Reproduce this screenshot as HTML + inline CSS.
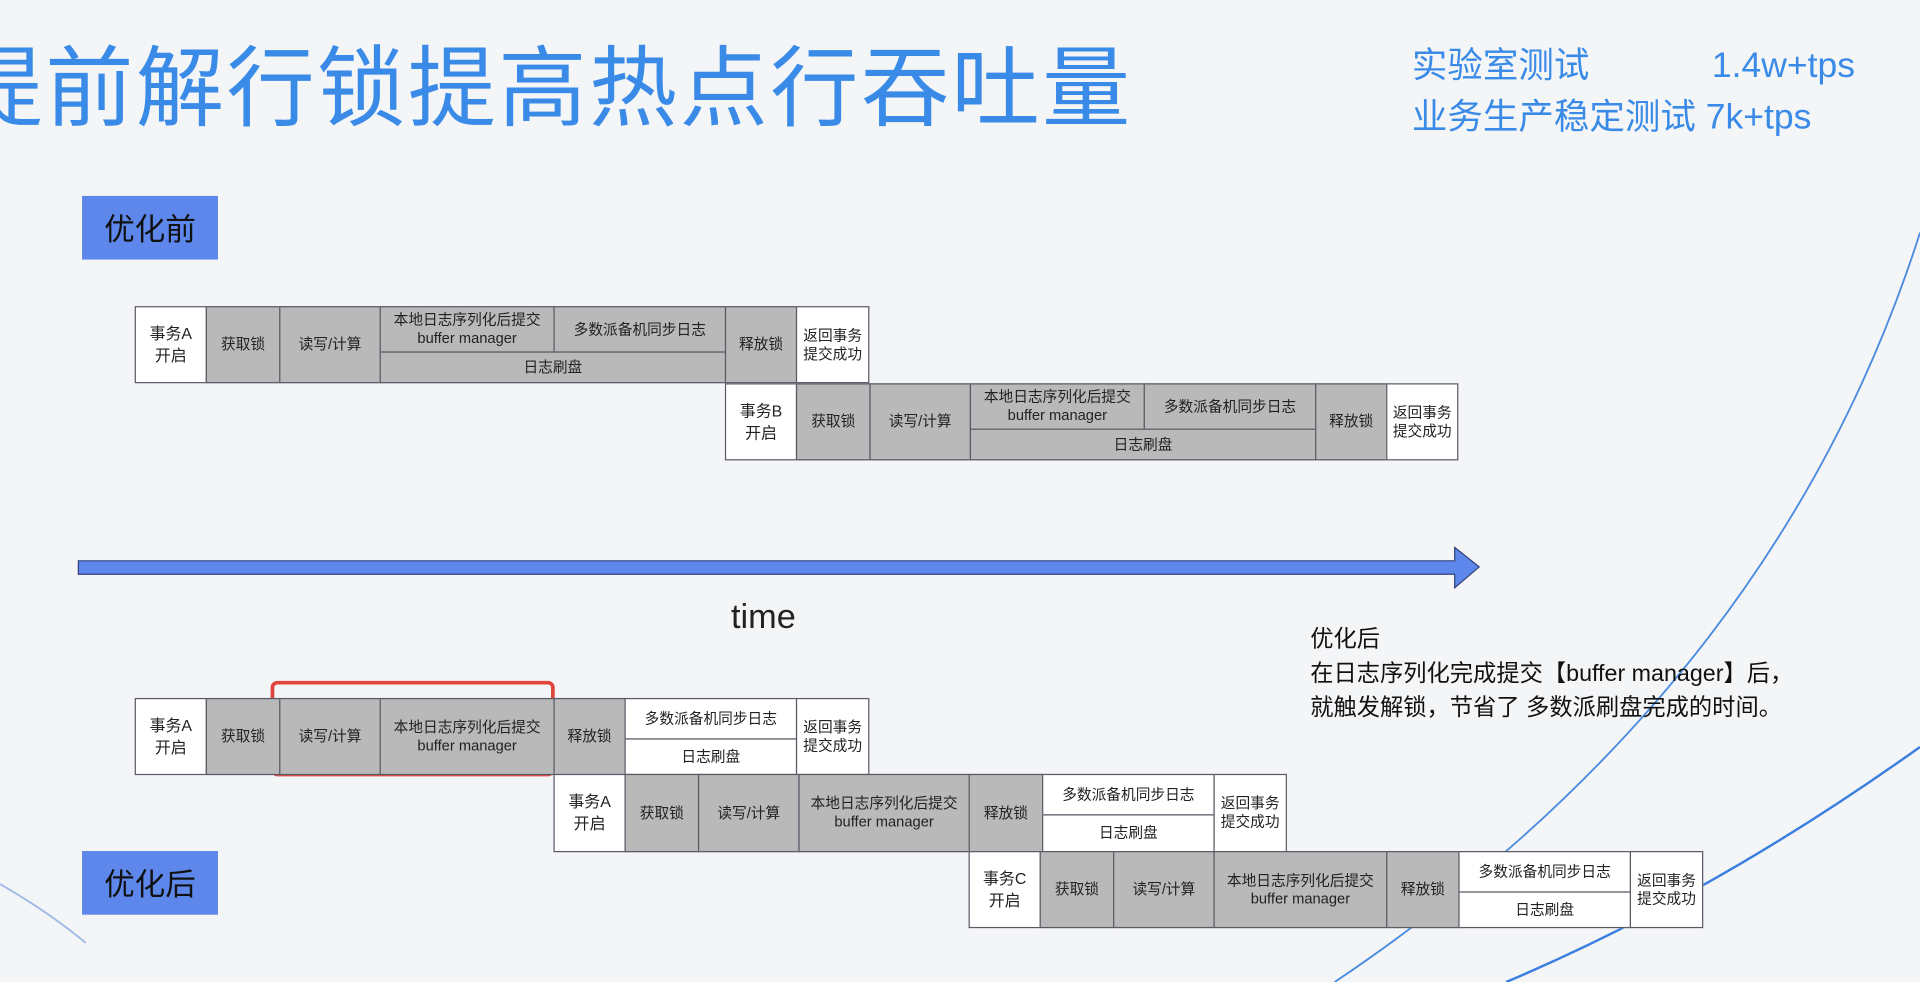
<!DOCTYPE html>
<html><head><meta charset="utf-8">
<style>
html,body{margin:0;padding:0;width:1920px;height:982px;overflow:hidden;background:#f4f5f7;}
#w{position:absolute;left:0;top:0;width:1568px;height:802px;transform:scale(1.22449);transform-origin:0 0;font-family:"Liberation Sans","Noto Sans CJK SC",sans-serif;}
.a{position:absolute;white-space:nowrap;}
.c{position:absolute;box-sizing:border-box;border:1px solid #5a5a66;background:#b9b9b9;color:#222;font-size:12px;line-height:15px;display:flex;align-items:center;justify-content:center;text-align:center;}
.wh{background:#fff;}
.tag{position:absolute;left:67px;width:111px;height:52px;background:#5d87ea;color:#111;font-size:25px;display:flex;align-items:center;justify-content:center;}
</style></head><body>
<div id="w">
<svg class="a" style="left:0;top:0" width="1568" height="802">
<path d="M1568 190 Q1450 560 1090 802" fill="none" stroke="#4a8be0" stroke-width="1.5"/>
<path d="M1568 610 Q1400 730 1230 802" fill="none" stroke="#3b7fe0" stroke-width="2"/>
<path d="M0 722 Q40 745 70 770" fill="none" stroke="#9fb8e8" stroke-width="1.5"/>
<path d="M64 458 L1188 458 L1188 447 L1208 463 L1188 480 L1188 469 L64 469 Z" fill="#5d87ea" stroke="#33407a" stroke-width="1"/>
<rect x="222.5" y="557.5" width="229" height="75" rx="4" fill="none" stroke="#e0453c" stroke-width="3"/>
</svg>
<div class="a" style="left:-37px;top:28px;font-size:72px;color:#3a8be8;letter-spacing:2px;line-height:90px;">提前解行锁提高热点行吞吐量</div>
<div class="a" style="left:1153px;top:33px;font-size:29px;color:#3a8be8;line-height:42px;">实验室测试<span style="display:inline-block;width:100px"></span>1.4w+tps<br>业务生产稳定测试 7k+tps</div>
<div class="tag" style="top:160px;">优化前</div>
<div class="tag" style="top:695px;">优化后</div>
<div class="a" style="left:597px;top:488px;font-size:28px;color:#222;">time</div>
<div class="a" style="left:1070px;top:509px;font-size:19px;color:#111;line-height:28px;">优化后<br>在日志序列化完成提交【buffer manager】后，<br>就触发解锁，节省了 多数派刷盘完成的时间。</div>

<!-- before A -->
<div class="c wh" style="left:110px;top:250px;width:59px;height:63px;font-size:13px;line-height:18px">事务A<br>开启</div>
<div class="c" style="left:168px;top:250px;width:61px;height:63px">获取锁</div>
<div class="c" style="left:228px;top:250px;width:83px;height:63px">读写/计算</div>
<div class="c" style="left:310px;top:250px;width:143px;height:38px">本地日志序列化后提交<br>buffer manager</div>
<div class="c" style="left:452px;top:250px;width:141px;height:38px">多数派备机同步日志</div>
<div class="c" style="left:310px;top:287px;width:283px;height:26px">日志刷盘</div>
<div class="c" style="left:592px;top:250px;width:59px;height:63px">释放锁</div>
<div class="c wh" style="left:650px;top:250px;width:60px;height:63px">返回事务<br>提交成功</div>
<!-- before B -->
<div class="c wh" style="left:592px;top:313px;width:59px;height:63px;font-size:13px;line-height:18px">事务B<br>开启</div>
<div class="c" style="left:650px;top:313px;width:61px;height:63px">获取锁</div>
<div class="c" style="left:710px;top:313px;width:83px;height:63px">读写/计算</div>
<div class="c" style="left:792px;top:313px;width:143px;height:38px">本地日志序列化后提交<br>buffer manager</div>
<div class="c" style="left:934px;top:313px;width:141px;height:38px">多数派备机同步日志</div>
<div class="c" style="left:792px;top:350px;width:283px;height:26px">日志刷盘</div>
<div class="c" style="left:1074px;top:313px;width:59px;height:63px">释放锁</div>
<div class="c wh" style="left:1132px;top:313px;width:59px;height:63px">返回事务<br>提交成功</div>

<!-- after rows -->
<div class="c wh" style="left:110px;top:570px;width:59px;height:63px;font-size:13px;line-height:18px">事务A<br>开启</div>
<div class="c" style="left:168px;top:570px;width:61px;height:63px">获取锁</div>
<div class="c" style="left:228px;top:570px;width:83px;height:63px">读写/计算</div>
<div class="c" style="left:310px;top:570px;width:143px;height:63px">本地日志序列化后提交<br>buffer manager</div>
<div class="c" style="left:452px;top:570px;width:59px;height:63px">释放锁</div>
<div class="c wh" style="left:510px;top:570px;width:141px;height:34px">多数派备机同步日志</div>
<div class="c wh" style="left:510px;top:603px;width:141px;height:30px">日志刷盘</div>
<div class="c wh" style="left:650px;top:570px;width:60px;height:63px">返回事务<br>提交成功</div>

<div class="c wh" style="left:452px;top:632px;width:59px;height:64px;font-size:13px;line-height:18px">事务A<br>开启</div>
<div class="c" style="left:510px;top:632px;width:61px;height:64px">获取锁</div>
<div class="c" style="left:570px;top:632px;width:83px;height:64px">读写/计算</div>
<div class="c" style="left:652px;top:632px;width:140px;height:64px">本地日志序列化后提交<br>buffer manager</div>
<div class="c" style="left:791px;top:632px;width:61px;height:64px">释放锁</div>
<div class="c wh" style="left:851px;top:632px;width:141px;height:34px">多数派备机同步日志</div>
<div class="c wh" style="left:851px;top:665px;width:141px;height:31px">日志刷盘</div>
<div class="c wh" style="left:991px;top:632px;width:60px;height:64px">返回事务<br>提交成功</div>

<div class="c wh" style="left:791px;top:695px;width:59px;height:63px;font-size:13px;line-height:18px">事务C<br>开启</div>
<div class="c" style="left:849px;top:695px;width:61px;height:63px">获取锁</div>
<div class="c" style="left:909px;top:695px;width:83px;height:63px">读写/计算</div>
<div class="c" style="left:991px;top:695px;width:142px;height:63px">本地日志序列化后提交<br>buffer manager</div>
<div class="c" style="left:1132px;top:695px;width:60px;height:63px">释放锁</div>
<div class="c wh" style="left:1191px;top:695px;width:141px;height:34px">多数派备机同步日志</div>
<div class="c wh" style="left:1191px;top:728px;width:141px;height:30px">日志刷盘</div>
<div class="c wh" style="left:1331px;top:695px;width:60px;height:63px">返回事务<br>提交成功</div>
</div>
</body></html>
